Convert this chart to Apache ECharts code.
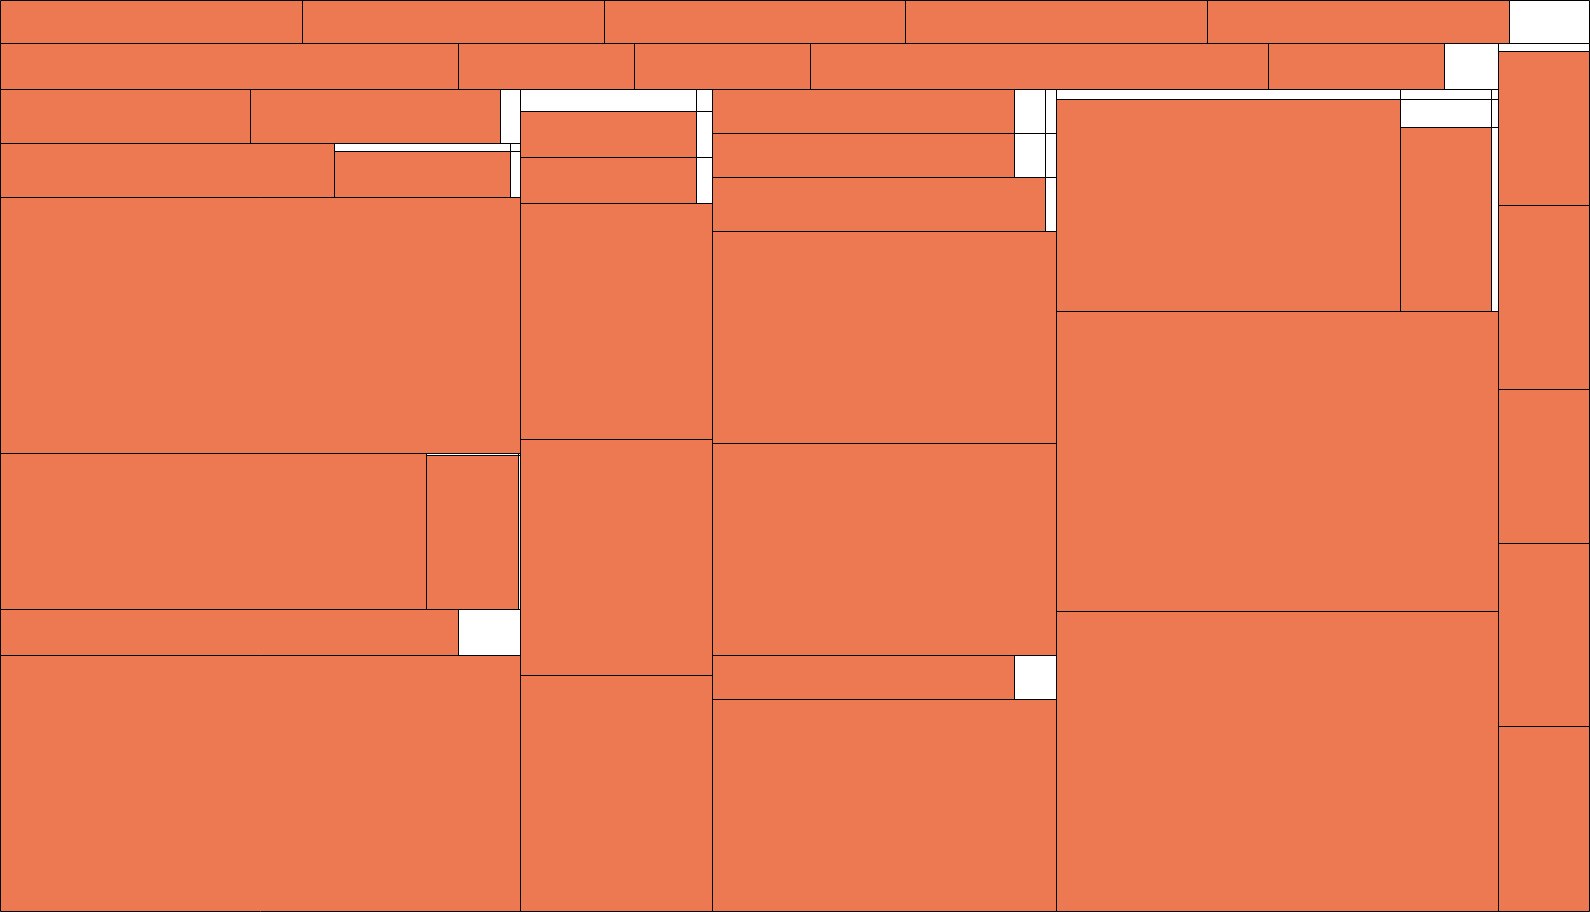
<!DOCTYPE html>
<html>
<head>
<meta charset="utf-8">
<script src="https://cdn.jsdelivr.net/npm/echarts@6/dist/echarts.min.js"></script>
<style>
  html, body { margin: 0; padding: 0; background: #ffffff; }
  #chart { width: 1590px; height: 912px; }
</style>
</head>
<body>
<div id="chart"></div>
<script>
// An empty (unassigned) cell of the given size.
function E(v) { return { value: v, empty: true }; }

// Cell sizes. A number is a filled cell, E(n) an empty cell, a nested array a group.
const topBand    = [13077, 13077, 13077, 13077, 13077, E(3464)];
const secondBand = [21077, 8096, 8105, 21077, 8096, E(2489)];

const col1Row1 = [13500, 13500, E(1080)];
const col1Row2 = [18047, [[E(1408), E(78)], [8096, E(451)]]];
const col1Row3 = 133224;
const col1Row4 = [66418, [[E(202), E(4)], [14131, E(261)]]];
const col1Row5 = [21082, E(2838)];
const col1Row6 = 133484;

const col2Head = [[E(3872), 8096, 8096], [E(356), E(745), E(745)]];
const col2Body = [45359, 45359, 45494];

const col3Head = [[[13301, E(1386)], [13301, E(1386)], 18025], [E(453), E(453), E(556)]];
const col3Body = [72949, 72949, [13288, E(1852)], 73190];

const col4Head = [[[E(3444), E(916)], [73013, [E(2565), 16854]]], [E(64), E(179), E(1178)]];
const col4Body = [132720, 133030];

const sideColumn = [E(730), 14078, 16790, 14042, 16790, 16881];

// Hierarchy (slice-and-dice: even depth stacks top->bottom, odd depth left->right)
const column1 = [col1Row1, col1Row2, col1Row3, col1Row4, col1Row5, col1Row6];
const column2 = [col2Head].concat(col2Body);
const column3 = [col3Head].concat(col3Body);
const column4 = [col4Head].concat(col4Body);
const tree = [topBand, [[secondBand, [column1, column2, column3, column4]], sideColumn]];

function sizeOf(n) {
  if (Array.isArray(n)) return n.reduce((s, c) => s + sizeOf(c), 0);
  return typeof n === 'number' ? n : n.value;
}

function sliceDice(node, x0, y0, x1, y1, depth, out) {
  if (!Array.isArray(node)) {
    out.push([x0, y0, x1, y1, (typeof node === 'object' && node.empty) ? 1 : 0, sizeOf(node)]);
    return;
  }
  const total = sizeOf(node);
  let t = depth % 2 === 0 ? y0 : x0;
  node.forEach(function (child) {
    const f = sizeOf(child) / total;
    if (depth % 2 === 0) {
      const h = (y1 - y0) * f;
      sliceDice(child, x0, t, x1, t + h, depth + 1, out);
      t += h;
    } else {
      const w = (x1 - x0) * f;
      sliceDice(child, t, y0, t + w, y1, depth + 1, out);
      t += w;
    }
  });
}

const cells = [];
sliceDice(tree, 0, 0, 1, 1, 0, cells);

const chart = echarts.init(document.getElementById('chart'), null, { renderer: 'canvas' });
const snap = v => Math.round(v - 0.5) + 0.5;

chart.setOption({
  animation: false,
  backgroundColor: '#ffffff',
  grid: { left: 0.5, right: 0.5, top: 0.5, bottom: 0.5, containLabel: false },
  xAxis: { type: 'value', min: 0, max: 1, show: false },
  yAxis: { type: 'value', min: 0, max: 1, inverse: true, show: false },
  series: [{
    type: 'custom',
    clip: false,
    encode: { x: [0, 2], y: [1, 3] },
    data: cells,
    emphasis: { disabled: true },
    renderItem: function (params, api) {
      const a = api.coord([api.value(0), api.value(1)]);
      const b = api.coord([api.value(2), api.value(3)]);
      const x0 = snap(Math.min(a[0], b[0])), x1 = snap(Math.max(a[0], b[0]));
      const y0 = snap(Math.min(a[1], b[1])), y1 = snap(Math.max(a[1], b[1]));
      return {
        type: 'rect',
        shape: { x: x0, y: y0, width: x1 - x0, height: y1 - y0 },
        style: {
          fill: api.value(4) ? '#ffffff' : '#ED7953',
          stroke: '#000000',
          lineWidth: 1
        }
      };
    }
  }]
});
</script>
</body>
</html>
